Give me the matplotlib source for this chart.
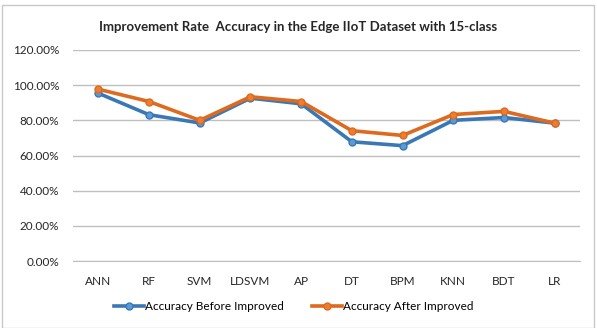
import matplotlib
matplotlib.use("Agg")
import matplotlib.pyplot as plt
from matplotlib.ticker import FuncFormatter
from matplotlib.patches import Rectangle

categories = ["ANN", "RF", "SVM", "LDSVM", "AP", "DT", "BPM", "KNN", "BDT", "LR"]
before = [0.954, 0.832, 0.785, 0.926, 0.894, 0.678, 0.656, 0.800, 0.816, 0.784]
after = [0.977, 0.907, 0.800, 0.934, 0.907, 0.741, 0.714, 0.833, 0.851, 0.784]
yticks = [0.0, 0.2, 0.4, 0.6, 0.8, 1.0, 1.2]

plt.rcParams['font.family'] = ['Lato', 'DejaVu Sans']

fig = plt.figure(figsize=(5.97, 3.28), dpi=100)
fig.patch.set_facecolor('white')
fig.patches.append(Rectangle((2/597, 0.0), 592/597, 1 - 5/328, transform=fig.transFigure,
                             fill=False, edgecolor='#c8c8c8', linewidth=1.0))

ax = fig.add_axes([73/597, 1 - 261/328, 507/597, 211/328])
x = list(range(len(categories)))
ax.plot(x, before, color='#3a78b5', linewidth=2.6, marker='o', markersize=5,
        markerfacecolor='#5b9bd5', markeredgecolor='#3a78b5', label='Accuracy Before Improved', zorder=3)
ax.plot(x, after, color='#dd6a1e', linewidth=2.6, marker='o', markersize=5,
        markerfacecolor='#ed7d31', markeredgecolor='#dd6a1e', label='Accuracy After Improved', zorder=4)

ax.set_xlim(-0.5, len(categories) - 0.5)
ax.set_ylim(0, 1.2)
ax.set_yticks(yticks)
ax.yaxis.set_major_formatter(FuncFormatter(lambda v, p: f"{v*100:.2f}%"))
ax.set_xticks(x)
ax.set_xticklabels(categories)
ax.grid(axis='y', color='#bfbfbf', linewidth=1.0)
ax.set_axisbelow(True)
for s in ['top', 'right', 'left']:
    ax.spines[s].set_visible(False)
ax.spines['bottom'].set_color('#bfbfbf')
ax.tick_params(axis='both', length=0, labelsize=8.5, colors='#262626')
ax.tick_params(axis='x', pad=11)
ax.tick_params(axis='y', pad=10)

fig.text(0.5, 1 - 27/328, "Improvement Rate  Accuracy in the Edge IIoT Dataset with 15-class",
         fontsize=9.5, fontweight='bold', color='#262626', ha='center', va='center')

leg = fig.legend(loc='center', bbox_to_anchor=(0.492, 1 - 307/328), ncol=2, frameon=False,
                 fontsize=8.5, handlelength=2.5, columnspacing=2.4, handletextpad=0.1)

fig.savefig("out.png", dpi=100, facecolor='white')
